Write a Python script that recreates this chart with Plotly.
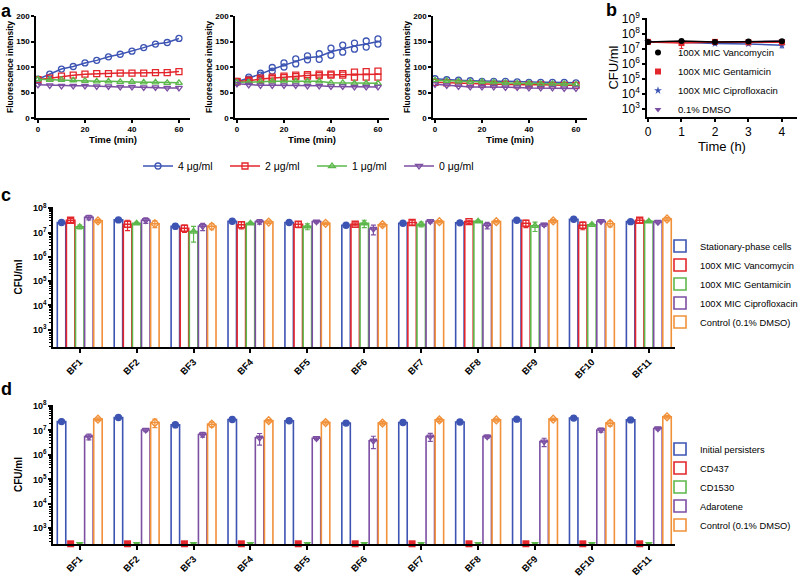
import numpy as np
import plotly.graph_objects as go

W, H = 800, 585
FONT = "Liberation Sans"

# ---------------- data ----------------
t_min = [0, 5, 10, 15, 20, 25, 30, 35, 40, 45, 50, 55, 60]
conc_labels = ["4 μg/ml", "2 μg/ml", "1 μg/ml", "0 μg/ml"]

a1_4 = [76, 86, 96, 101, 108, 113, 120, 125, 131, 138, 145, 148, 156]
a1_2 = [75, 78, 82, 84, 86, 87, 87, 88, 88, 88, 89, 89, 91]
a1_1 = [76, 75, 75, 74, 73, 72, 72, 71, 71, 70, 70, 69, 69]
a1_0 = [65, 64, 63, 63, 63, 62, 62, 61, 61, 60, 60, 59, 59]

a2_4_rep1 = [72, 80, 88, 99, 108, 116, 122, 126, 137, 143, 147, 151, 155]
a2_4_rep2 = [70, 76, 84, 92, 100, 106, 114, 115, 123, 129, 135, 139, 145]
a2_2_rep1 = [72, 74, 78, 80, 82, 84, 85, 86, 86, 87, 90, 91, 92]
a2_2_rep2 = [71, 72, 75, 77, 79, 81, 82, 83, 84, 84, 80, 80, 80]
a2_1 = [70, 70, 71, 72, 72, 72, 72, 72, 69, 69, 68, 68, 68]
a2_0 = [67, 65, 64, 64, 64, 64, 63, 63, 62, 62, 61, 61, 61]

a3_4 = [77, 75, 74, 73, 72, 72, 72, 71, 70, 70, 70, 70, 69]
a3_2 = [70, 69, 68, 67, 66, 66, 66, 65, 65, 65, 64, 64, 64]
a3_1 = [74, 73, 72, 71, 71, 70, 69, 68, 68, 67, 67, 67, 66]
a3_0 = [66, 64, 62, 61, 61, 61, 60, 60, 59, 59, 59, 58, 58]

t_h = [0, 1, 2, 3, 4]
b_vanco = [3.0e7, 3.5e7, 3.0e7, 3.2e7, 3.3e7]
b_genta = [3.0e7, 2.5e7, 3.0e7, 2.8e7, 2.8e7]
b_cipro = [3.0e7, 2.8e7, 2.3e7, 2.2e7, 1.8e7]
b_dmso = [3.0e7, 3.0e7, 2.8e7, 3.0e7, 3.5e7]
b_genta_sd = [0.2e7, 1.4e7, 0.5e7, 0.4e7, 0.4e7]
b_cipro_sd = [0.2e7, 0.4e7, 0.4e7, 0.3e7, 0.6e7]
b_names = ["100X MIC Vancomycin", "100X MIC Gentamicin", "100X MIC Ciprofloxacin", "0.1% DMSO"]

bf_labels = ["BF1", "BF2", "BF3", "BF4", "BF5", "BF6", "BF7", "BF8", "BF9", "BF10", "BF11"]

c_names = ["Stationary-phase cells", "100X MIC Vancomycin", "100X MIC Gentamicin",
           "100X MIC Ciprofloxacin", "Control (0.1% DMSO)"]
c_stat = [2.6e7, 3.3e7, 1.8e7, 2.9e7, 2.6e7, 2.0e7, 2.4e7, 2.5e7, 3.2e7, 3.5e7, 2.8e7]
c_vanc = [3.2e7, 2.2e7, 1.5e7, 2.1e7, 2.2e7, 2.2e7, 2.6e7, 2.8e7, 2.4e7, 2.0e7, 3.2e7]
c_gent = [1.7e7, 2.4e7, 1.1e7, 2.4e7, 1.8e7, 2.4e7, 2.2e7, 2.9e7, 1.9e7, 2.1e7, 2.9e7]
c_cipr = [4.2e7, 3.2e7, 1.8e7, 2.8e7, 2.8e7, 1.4e7, 2.9e7, 2.0e7, 2.1e7, 2.9e7, 2.7e7]
c_dmso = [3.0e7, 2.3e7, 1.8e7, 2.7e7, 2.4e7, 2.1e7, 2.8e7, 2.8e7, 3.0e7, 2.3e7, 3.6e7]
c_stat_sd = [0.2e7, 0.3e7, 0.4e7, 0.2e7, 0.15e7, 0.2e7, 0.2e7, 0.3e7, 0.3e7, 0.4e7, 0.3e7]
c_vanc_sd = [0.6e7, 1.0e7, 0.5e7, 0.7e7, 0.6e7, 0.3e7, 0.6e7, 0.4e7, 0.8e7, 0.7e7, 0.7e7]
c_gent_sd = [0.3e7, 0.2e7, 0.7e7, 0.2e7, 0.5e7, 0.8e7, 0.5e7, 0.3e7, 0.8e7, 0.3e7, 0.3e7]
c_cipr_sd = [0.9e7, 0.8e7, 0.6e7, 0.6e7, 0.3e7, 0.6e7, 0.4e7, 0.6e7, 0.3e7, 0.3e7, 0.4e7]
c_dmso_sd = [0.4e7, 0.7e7, 0.5e7, 0.3e7, 0.3e7, 0.3e7, 0.3e7, 0.3e7, 0.4e7, 0.6e7, 0.5e7]

d_names = ["Initial persisters", "CD437", "CD1530", "Adarotene", "Control (0.1% DMSO)"]
d_init = [2.3e7, 3.4e7, 1.7e7, 2.8e7, 2.5e7, 2.0e7, 2.1e7, 2.2e7, 2.9e7, 3.2e7, 2.7e7]
d_cd437 = [0] * 11
d_cd1530 = [0] * 11
d_adar = [5.6e6, 1.05e7, 6.8e6, 5.0e6, 4.8e6, 3.8e6, 5.6e6, 5.6e6, 3.5e6, 1.05e7, 1.2e7]
d_dmso = [2.9e7, 2.1e7, 1.8e7, 2.5e7, 2.1e7, 2.0e7, 2.7e7, 2.7e7, 2.9e7, 2.0e7, 3.6e7]
d_init_sd = [0.2e7, 0.3e7, 0.4e7, 0.2e7, 0.2e7, 0.2e7, 0.2e7, 0.3e7, 0.3e7, 0.4e7, 0.3e7]
d_adar_sd = [1.5e6, 1.5e6, 1.5e6, 2.5e6, 0.6e6, 2.0e6, 2.0e6, 0.8e6, 1.3e6, 2.0e6, 1.5e6]
d_dmso_sd = [0.4e7, 0.8e7, 0.4e7, 0.3e7, 0.3e7, 0.3e7, 0.4e7, 0.3e7, 0.3e7, 0.5e7, 0.4e7]

# ---------------- styles ----------------
BLUE, RED, GREEN, PURPLE, ORANGE = "#3d54b3", "#e3262b", "#5db84c", "#7c4fa3", "#f1913a"
cols5 = [BLUE, RED, GREEN, PURPLE, ORANGE]
syms_a = ["circle-open", "square-open", "triangle-up-open", "triangle-down-open"]
syms5 = ["circle", "square-open", "triangle-up-open", "triangle-down-open", "diamond-open"]


def xd(a, b):
    return [a / W, b / W]


def yd(top, bot):
    return [1 - bot / H, 1 - top / H]


base_ax = dict(showline=True, linecolor="black", linewidth=1.5, ticks="outside", automargin=False,
               tickcolor="black", tickwidth=1.5, ticklen=3, showgrid=False, zeroline=False)
bold_tick = dict(family=FONT, size=8, color="black", weight="bold")

fig = go.Figure()

# ---------------- panel a ----------------
panels_a = [
    ("x", "y", [(a1_4, None), (a1_2, None), (a1_1, None), (a1_0, None)]),
    ("x2", "y2", [(None, (a2_4_rep1, a2_4_rep2)), (None, (a2_2_rep1, a2_2_rep2)),
                  (a2_1, None), (a2_0, None)]),
    ("x3", "y3", [(a3_4, None), (a3_2, None), (a3_1, None), (a3_0, None)]),
]
for pi, (xa, ya, series) in enumerate(panels_a):
    for si, (vals, reps) in enumerate(series):
        show = pi == 0
        if reps is not None:
            mean = np.mean(np.array(reps), axis=0)
            fig.add_trace(go.Scatter(x=t_min, y=mean, mode="lines", xaxis=xa, yaxis=ya,
                                     line=dict(color=cols5[si], width=1.5), showlegend=False,
                                     cliponaxis=False))
            for r in reps:
                fig.add_trace(go.Scatter(x=t_min, y=r, mode="markers", xaxis=xa, yaxis=ya,
                                         marker=dict(symbol=syms_a[si], color=cols5[si], size=6,
                                                     line=dict(width=1.3)),
                                         showlegend=False, cliponaxis=False))
        else:
            fig.add_trace(go.Scatter(x=t_min, y=vals, mode="lines+markers", xaxis=xa, yaxis=ya,
                                     name=conc_labels[si], legend="legend",
                                     line=dict(color=cols5[si], width=1.5),
                                     marker=dict(symbol=syms_a[si], color=cols5[si], size=6,
                                                 line=dict(width=1.3)),
                                     showlegend=show, cliponaxis=False))

a_x_domains = [xd(36, 190), xd(235, 389), xd(433, 587)]
for i, dom in enumerate(a_x_domains):
    sfx = "" if i == 0 else str(i + 1)
    fig.update_layout(**{
        "xaxis" + sfx: dict(base_ax, domain=dom, range=[-0.85, 64.7], tickvals=[0, 20, 40, 60],
                            tickfont=bold_tick, anchor="y" + sfx,
                            title=dict(text="Time (min)", font=dict(family=FONT, size=9.5, weight="bold"),
                                       standoff=3)),
        "yaxis" + sfx: dict(base_ax, domain=yd(16, 118), range=[0, 200], tickvals=[0, 50, 100, 150, 200],
                            tickfont=bold_tick, anchor="x" + sfx,
                            title=dict(text="Fluorescence intensity",
                                       font=dict(family=FONT, size=8.5, weight="bold"), standoff=1)),
    })

# ---------------- panel b ----------------
b_series = [(b_dmso, None, b_names[3], PURPLE, "triangle-down"),
            (b_cipro, b_cipro_sd, b_names[2], BLUE, "star"),
            (b_genta, b_genta_sd, b_names[1], RED, "square"),
            (b_vanco, None, b_names[0], "black", "circle")]
for vals, sd, nm, col, sym in b_series:
    fig.add_trace(go.Scatter(x=t_h, y=vals, mode="lines+markers", name=nm, xaxis="x4", yaxis="y4",
                             showlegend=False, line=dict(color=col, width=1.5),
                             marker=dict(symbol=sym, color=col, size=6), cliponaxis=False,
                             error_y=dict(type="data", array=sd, color=col, thickness=1, width=2)
                             if sd is not None else None))
    # legend entry (marker only, as in the reference key)
    fig.add_trace(go.Scatter(x=[None], y=[None], mode="markers", name=nm, xaxis="x4", yaxis="y4",
                             legend="legend2", marker=dict(symbol=sym, color=col, size=6)))

log_ticks = [1e3, 1e4, 1e5, 1e6, 1e7, 1e8, 1e9]
log_text = ["10<sup>%d</sup>" % k for k in range(3, 10)]
minor_vals = [m * 10 ** k for k in range(2, 9) for m in range(2, 10)]

fig.update_layout(
    xaxis4=dict(base_ax, domain=xd(647, 797), range=[-0.03, 4.45], tickvals=[0, 1, 2, 3, 4],
                tickfont=dict(family=FONT, size=12, color="black"), anchor="y4",
                title=dict(text="Time (h)", font=dict(family=FONT, size=13), standoff=3)),
    yaxis4=dict(base_ax, domain=yd(18, 117), type="log", range=[2.47, 9.07], tickvals=log_ticks,
                ticktext=log_text, tickfont=dict(family=FONT, size=12, color="black"), anchor="x4",
                title=dict(text="CFU/ml", font=dict(family=FONT, size=13), standoff=0)),
)

# ---------------- panels c and d ----------------
nbf = len(bf_labels)
idx = np.arange(nbf)
slot = 0.16
zsyms = ["square", "square", "triangle-down", "triangle-down", "diamond"]


def grouped_panel(xa, ya, leg, names, means, sds, floor_val):
    for j, (nm, m, sd) in enumerate(zip(names, means, sds)):
        xpos = idx + (j - 2) * slot
        m = np.array(m, dtype=float)
        if (m > 0).any():
            fig.add_trace(go.Bar(x=xpos, y=m, width=slot * 0.93, name=nm, xaxis=xa, yaxis=ya,
                                 legend=leg,
                                 marker=dict(color="white", line=dict(color=cols5[j], width=1.6))))
            fig.add_trace(go.Scatter(x=xpos, y=m, mode="markers", xaxis=xa, yaxis=ya, showlegend=False,
                                     marker=dict(symbol=syms5[j], color=cols5[j], size=6,
                                                 line=dict(width=1.4, color=cols5[j])),
                                     error_y=dict(type="data", array=sd, color=cols5[j],
                                                  thickness=1.2, width=2.5)))
        else:
            # zero counts: legend key as a bar, values drawn on the axis floor
            fig.add_trace(go.Bar(x=[-5], y=[1e3], width=slot * 0.93, name=nm, xaxis=xa, yaxis=ya,
                                 legend=leg,
                                 marker=dict(color="white", line=dict(color=cols5[j], width=1.6))))
            fig.add_trace(go.Scatter(x=list(xpos), y=[floor_val * 1.02] * nbf, mode="markers",
                                     xaxis=xa, yaxis=ya, showlegend=False, cliponaxis=False,
                                     marker=dict(symbol=zsyms[j], color=cols5[j], size=7,
                                                 line=dict(width=0))))


c_range = [2.29, 8.05]
d_range = [2.36, 8.04]
grouped_panel("x5", "y5", "legend3", c_names, [c_stat, c_vanc, c_gent, c_cipr, c_dmso],
              [c_stat_sd, c_vanc_sd, c_gent_sd, c_cipr_sd, c_dmso_sd], 10 ** c_range[0])
grouped_panel("x6", "y6", "legend4", d_names, [d_init, d_cd437, d_cd1530, d_adar, d_dmso],
              [d_init_sd, None, None, d_adar_sd, d_dmso_sd], 10 ** d_range[0])

for sfx, ydom, yr in [("5", yd(207, 347), c_range), ("6", yd(405, 544), d_range)]:
    fig.update_layout(**{
        "xaxis" + sfx: dict(base_ax, domain=xd(53, 675), range=[-0.47, 10.46], tickvals=list(idx),
                            ticktext=bf_labels, tickangle=-45, anchor="y" + sfx, ticklen=4,
                            tickfont=dict(family=FONT, size=9.5, color="black", weight="bold")),
        "yaxis" + sfx: dict(base_ax, domain=ydom, type="log", range=yr, tickvals=log_ticks[:-1],
                            ticktext=log_text[:-1], anchor="x" + sfx,
                            tickfont=dict(family=FONT, size=9, color="black", weight="bold"),
                            minor=dict(ticks="outside", tickvals=minor_vals, ticklen=2.5,
                                       tickcolor="black", tickwidth=1),
                            title=dict(text="CFU/ml", font=dict(family=FONT, size=10, weight="bold"),
                                       standoff=8)),
    })

# ---------------- legends, labels ----------------
fig.update_layout(
    width=W, height=H, margin=dict(l=0, r=0, t=0, b=0, autoexpand=False),
    paper_bgcolor="white", plot_bgcolor="white",
    font=dict(family=FONT, color="black"),
    barmode="overlay",
    legend=dict(orientation="h", x=312 / W, xanchor="center", y=1 - 166 / H, yanchor="middle",
                font=dict(family=FONT, size=10.5), entrywidth=42, itemwidth=30,
                bgcolor="rgba(0,0,0,0)"),
    legend2=dict(x=638 / W, xanchor="left", y=1 - 81 / H, yanchor="middle", traceorder="reversed",
                 font=dict(family=FONT, size=9.5), bgcolor="rgba(0,0,0,0)", itemwidth=30),
    legend3=dict(x=660 / W, xanchor="left", y=1 - 284 / H, yanchor="middle",
                 font=dict(family=FONT, size=9.3), bgcolor="rgba(0,0,0,0)", itemwidth=30),
    legend4=dict(x=660 / W, xanchor="left", y=1 - 487 / H, yanchor="middle",
                 font=dict(family=FONT, size=9.3), bgcolor="rgba(0,0,0,0)", itemwidth=30),
)

for txt, px, py in [("a", 6, 11), ("b", 611, 10), ("c", 6, 195), ("d", 6, 389)]:
    fig.add_annotation(text="<b>%s</b>" % txt, x=px / W, y=1 - py / H, xref="paper", yref="paper",
                       showarrow=False, font=dict(family=FONT, size=18, color="black"),
                       xanchor="center", yanchor="middle")

fig.write_html("out.html", config={"displayModeBar": False},
               post_script="document.body.style.margin='0';document.body.style.overflow='hidden';")
